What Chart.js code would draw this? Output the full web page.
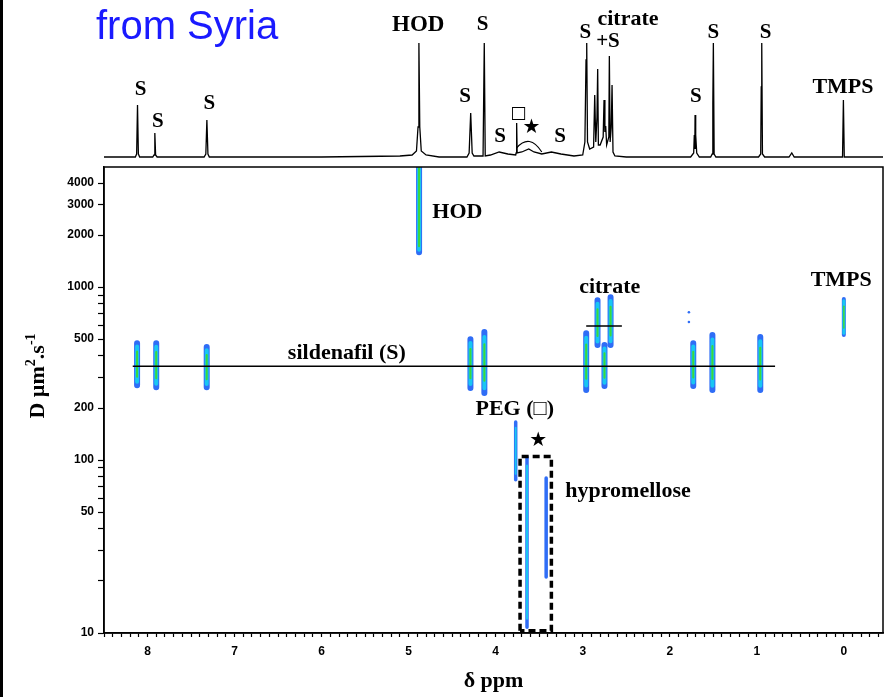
<!DOCTYPE html>
<html>
<head>
<meta charset="utf-8">
<title>DOSY – from Syria</title>
<script src="https://cdn.jsdelivr.net/npm/chart.js@4.4.1/dist/chart.umd.min.js"></script>
<style>
  html, body { margin: 0; padding: 0; background: #fff; }
  #wrap { position: relative; width: 891px; height: 697px; overflow: hidden; }
  #wrap canvas { position: absolute; left: 0; top: 0; }
  #edge { position: absolute; left: 0; top: 0; width: 3px; height: 697px; background: #000; }
</style>
</head>
<body>
<div id="wrap">
  <canvas id="dosy" width="891" height="697" style="width:891px;height:697px"></canvas>
  <canvas id="spec" width="891" height="167" style="width:891px;height:167px"></canvas>
  <div id="edge"></div>
</div>
<script>
// 1H trace above the DOSY map (ppm, height above baseline)
const specPpm = [8.50, 8.14, 8.125, 8.115, 8.105, 8.09,
  7.94, 7.925, 7.916, 7.907, 7.89,
  7.35, 7.33, 7.318, 7.306, 7.29,
  6.00, 5.10, 4.96, 4.91, 4.892, 4.882, 4.872, 4.855, 4.80, 4.65,
  4.33, 4.305, 4.287, 4.27, 4.25, 4.145, 4.131, 4.12,
  4.06, 3.96, 3.86, 3.77, 3.765, 3.759, 3.753, 3.70, 3.62, 3.56, 3.47, 3.36, 3.25, 3.10, 3.00,
  2.975, 2.962, 2.954, 2.945, 2.92, 2.875, 2.862, 2.85, 2.836, 2.828, 2.82, 2.80,
  2.765, 2.755, 2.745, 2.736, 2.725, 2.70, 2.694, 2.685, 2.672, 2.663, 2.652, 2.63, 2.50,
  1.76, 1.725, 1.718, 1.712, 1.709, 1.704, 1.70, 1.69, 1.66,
  1.53, 1.512, 1.505, 1.499, 1.49, 1.47,
  0.98, 0.955, 0.949, 0.943, 0.935, 0.91,
  0.63, 0.598, 0.57,
  0.015, 0.005, -0.005, -0.45];
const specInt = [0, 0, 3, 52, 3, 0,
  0, 2, 24, 2, 0,
  0, 3, 37, 3, 0,
  0, 1, 2, 6, 30, 114, 30, 6, 2, 0,
  0, 4, 44, 4, 1, 1, 114, 1,
  2, 5, 3, 2, 4, 34, 4, 5, 8, 5, 3, 5, 3, 1, 2,
  15, 97, 114, 15, 8, 10, 62, 15, 40, 88, 12, 12,
  20, 57, 25, 31, 12, 20, 101, 15, 30, 72, 5, 1, 0,
  0, 4, 22, 8, 42, 8, 22, 4, 0,
  0, 3, 53, 114, 3, 0,
  0, 3, 70, 114, 3, 0,
  0, 4, 0,
  0, 57, 0, 0];

// DOSY cross peaks: chemical shift and D range (µm²/s) of each spot
const silPpm = [8.12, 7.90, 7.32, 4.29, 4.13, 2.96, 2.75, 1.73, 1.51, 0.96];
const silDlo = [271, 264, 264, 261, 244, 254, 268, 268, 254, 254];
const silDhi = [474, 474, 450, 500, 550, 542, 462, 474, 528, 514];
const citPpm = [2.83, 2.68];
const citDlo = [462, 462];
const citDhi = [841, 875];
const tmpsPpm = [0.0];
const tmpsDlo = [528];
const tmpsDhi = [853];
const hodPpm = [4.88];
const hodDlo = [1592];
const hodDhi = [6000];
const pegPpm = [3.77];
const pegDlo = [77];
const pegDhi = [166];
const hypPpm = [3.64, 3.42];
const hypDlo = [10.8, 21.1];
const hypDhi = [104, 78.7];
const dotPpm = [1.78, 1.78];
const dotD = [716, 628];

// fitted diffusion coefficients
const silLinePpm = [8.17, 0.79];
const silD = 349;
const citLinePpm = [2.96, 2.55];
const citD = 596;

// dashed frame round the hypromellose signals
const boxPpm = [3.72, 3.36];
const boxD = [10.3, 105];

// axis ticks
const xTickLabels = [8, 7, 6, 5, 4, 3, 2, 1, 0];
const yTickValues = [10, 20, 30, 40, 50, 60, 70, 80, 90, 100, 200, 300, 400, 500, 600, 700, 800, 900, 1000, 2000, 3000, 4000];
const yTickLabels = [10, 50, 100, 200, 500, 1000, 2000, 3000, 4000];

const SERIF = '"Liberation Serif", "DejaVu Serif", serif';
const SANS = '"Liberation Sans", Arial, sans-serif';
const BLUE = '#2f6df6', CYAN = '#19c6f2', GREEN = '#3bd93b';
Chart.defaults.color = '#000';

// one vertical stroke per spot; trim pulls the ends in (log units) for the inner contour levels
function spots(ppm, lo, hi, trim) {
  const pts = [];
  ppm.forEach((p, i) => {
    const a = Math.log10(lo[i]), b = Math.log10(hi[i]);
    const d = (b - a) * (trim || 0);
    pts.push({x: p, y: Math.pow(10, a + d)}, {x: p, y: Math.pow(10, b - d)}, {x: p, y: null});
  });
  return pts;
}

function stroke(data, color, width, order, extra) {
  return Object.assign({
    data: data, showLine: true, borderColor: color, borderWidth: width,
    borderCapStyle: 'round', pointRadius: 0, spanGaps: false, clip: 0, order: order
  }, extra || {});
}

function bigSpots(trim) {
  return spots(silPpm, silDlo, silDhi, trim)
    .concat(spots(citPpm, citDlo, citDhi, trim), spots(hodPpm, hodDlo, hodDhi, trim * 0.3));
}

const fitLines = [
  {x: silLinePpm[0], y: silD}, {x: silLinePpm[1], y: silD}, {x: silLinePpm[1], y: null},
  {x: citLinePpm[0], y: citD}, {x: citLinePpm[1], y: citD}
];
const boxPts = [
  {x: boxPpm[0], y: boxD[0]}, {x: boxPpm[0], y: boxD[1]}, {x: boxPpm[1], y: boxD[1]},
  {x: boxPpm[1], y: boxD[0]}, {x: boxPpm[0], y: boxD[0]}
];

// text on the DOSY map: text, ppm, D at baseline
const mapNotes = [
  ['HOD', 4.44, 2506],
  ['citrate', 2.69, 923],
  ['TMPS', 0.03, 1013],
  ['sildenafil (S)', 5.71, 384],
  ['PEG (\u25A1)', 3.78, 182],
  ['hypromellose', 2.48, 61]
];

const mapDecor = {
  id: 'mapDecor',
  afterDraw(chart) {
    const {ctx, chartArea: a, scales: {x, y}} = chart;
    ctx.save();
    ctx.strokeStyle = '#000';
    ctx.lineWidth = 1.5;
    ctx.strokeRect(a.left, a.top, a.right - a.left, a.bottom - a.top);

    ctx.fillStyle = '#000';
    ctx.textAlign = 'center';
    ctx.textBaseline = 'alphabetic';
    ctx.font = 'bold 22px ' + SERIF;
    mapNotes.forEach(n => ctx.fillText(n[0], x.getPixelForValue(n[1]), y.getPixelForValue(n[2])));
    ctx.textBaseline = 'middle';
    ctx.font = '20px "DejaVu Sans"';
    ctx.fillText('\u2605', x.getPixelForValue(3.51), y.getPixelForValue(129));

    // y axis title with superscripts
    const parts = [['D \u00B5m', 22, 0], ['2', 14, -9], ['.s', 22, 0], ['-1', 14, -9]];
    let total = 0;
    parts.forEach(p => { ctx.font = 'bold ' + p[1] + 'px ' + SERIF; total += ctx.measureText(p[0]).width; });
    ctx.translate(36, 376);
    ctx.rotate(-Math.PI / 2);
    ctx.textAlign = 'left';
    ctx.textBaseline = 'alphabetic';
    let px = -total / 2;
    parts.forEach(p => {
      ctx.font = 'bold ' + p[1] + 'px ' + SERIF;
      ctx.fillText(p[0], px, 8 + p[2]);
      px += ctx.measureText(p[0]).width;
    });
    ctx.restore();
  }
};

new Chart(document.getElementById('dosy'), {
  type: 'scatter',
  data: {
    datasets: [
      stroke(boxPts, '#000', 3.5, 0, {borderDash: [7, 4], borderCapStyle: 'butt'}),
      stroke(fitLines, '#000', 1.5, 1, {borderCapStyle: 'butt'}),
      stroke(bigSpots(0.2), GREEN, 2, 2),
      stroke(bigSpots(0.08), CYAN, 4, 3),
      stroke(bigSpots(0), BLUE, 6, 4),
      stroke(spots(tmpsPpm, tmpsDlo, tmpsDhi, 0.2), GREEN, 1.5, 2),
      stroke(spots(tmpsPpm, tmpsDlo, tmpsDhi, 0.05), CYAN, 3, 3),
      stroke(spots(tmpsPpm, tmpsDlo, tmpsDhi, 0), BLUE, 4, 4),
      stroke(spots(pegPpm, pegDlo, pegDhi, 0.1), CYAN, 1.8, 2),
      stroke(spots(pegPpm, pegDlo, pegDhi, 0), BLUE, 3.5, 3),
      stroke(spots(hypPpm.slice(0, 1), hypDlo, hypDhi, 0.05), CYAN, 2, 2),
      stroke(spots(hypPpm, hypDlo, hypDhi, 0), BLUE, 3.5, 3),
      {data: dotPpm.map((p, i) => ({x: p, y: dotD[i]})), pointRadius: 1.3, backgroundColor: BLUE, borderWidth: 0, order: 5}
    ]
  },
  options: {
    responsive: false,
    animation: false,
    layout: {padding: {top: 167, right: 8, left: 0, bottom: 0}},
    plugins: {legend: {display: false}, tooltip: {enabled: false}},
    scales: {
      x: {
        type: 'linear', min: -0.45, max: 8.5, reverse: true,
        afterBuildTicks: s => {
          const t = [];
          for (let k = -4; k <= 85; k++) t.push({value: k / 10});
          s.ticks = t;
        },
        afterFit: s => { s.height = 64; },
        ticks: {
          autoSkip: false, maxRotation: 0, minRotation: 0, padding: 7,
          font: {family: SANS, size: 12, weight: 'bold'},
          callback: v => xTickLabels.includes(v) ? String(v) : ''
        },
        grid: {drawOnChartArea: false, tickLength: 4, tickColor: '#000', tickWidth: 1.2},
        border: {color: '#000', width: 1.5},
        title: {display: true, text: '\u03B4 ppm', font: {family: SERIF, size: 22, weight: 'bold'}, padding: {top: 0, bottom: 2}}
      },
      y: {
        type: 'logarithmic', min: 10, max: 4950,
        afterBuildTicks: s => { s.ticks = yTickValues.map(v => ({value: v})); },
        afterFit: s => { s.width = 104; },
        ticks: {
          autoSkip: false, padding: 4,
          font: {family: SANS, size: 12, weight: 'bold'},
          callback: v => yTickLabels.includes(v) ? String(v) : ''
        },
        grid: {drawOnChartArea: false, tickLength: 6, tickColor: '#000', tickWidth: 1.2},
        border: {color: '#000', width: 1.5}
      }
    }
  },
  plugins: [mapDecor]
});

// labels over the 1H trace: text, ppm, height at baseline, size
const specNotes = [
  ['S', 8.08, 62, 21], ['S', 7.88, 30, 21], ['S', 7.29, 48, 21], ['HOD', 4.89, 126, 23],
  ['S', 4.35, 55, 21], ['S', 4.15, 127, 21], ['S', 3.95, 15, 21], ['S', 3.26, 15, 21],
  ['S', 2.97, 119, 21], ['citrate', 2.48, 132, 22], ['+S', 2.71, 110, 21], ['S', 1.70, 55, 21],
  ['S', 1.50, 119, 21], ['S', 0.90, 119, 21], ['TMPS', 0.01, 64, 22]
];

const specDecor = {
  id: 'specDecor',
  afterDraw(chart) {
    const {ctx, scales: {x, y}} = chart;
    ctx.save();
    ctx.fillStyle = '#000';
    ctx.textAlign = 'center';
    ctx.textBaseline = 'alphabetic';
    specNotes.forEach(n => {
      ctx.font = 'bold ' + n[3] + 'px ' + SERIF;
      ctx.fillText(n[0], x.getPixelForValue(n[1]), y.getPixelForValue(n[2]));
    });
    ctx.textBaseline = 'middle';
    ctx.font = '17px "DejaVu Sans"';
    ctx.fillText('\u25A1', x.getPixelForValue(3.74), y.getPixelForValue(43));
    ctx.font = '20px "DejaVu Sans"';
    ctx.fillText('\u2605', x.getPixelForValue(3.59), y.getPixelForValue(29));
    // brace under the star
    ctx.strokeStyle = '#000';
    ctx.lineWidth = 1.2;
    ctx.beginPath();
    ctx.moveTo(x.getPixelForValue(3.76), y.getPixelForValue(9));
    ctx.quadraticCurveTo(x.getPixelForValue(3.61), y.getPixelForValue(24), x.getPixelForValue(3.47), y.getPixelForValue(5));
    ctx.stroke();

    ctx.fillStyle = '#1a1aff';
    ctx.textAlign = 'left';
    ctx.textBaseline = 'alphabetic';
    ctx.font = '40px ' + SANS;
    ctx.fillText('from Syria', 96, 39);
    ctx.restore();
  }
};

new Chart(document.getElementById('spec'), {
  type: 'scatter',
  data: {
    datasets: [{
      data: specPpm.map((p, i) => ({x: p, y: specInt[i]})),
      showLine: true, borderColor: '#000', borderWidth: 1.3, pointRadius: 0
    }]
  },
  options: {
    responsive: false,
    animation: false,
    layout: {padding: {top: 10, right: 8, left: 104, bottom: 0}},
    plugins: {legend: {display: false}, tooltip: {enabled: false}},
    scales: {
      x: {type: 'linear', min: -0.45, max: 8.5, reverse: true, display: false},
      y: {type: 'linear', min: -10, max: 147, display: false}
    }
  },
  plugins: [specDecor]
});
</script>
</body>
</html>
